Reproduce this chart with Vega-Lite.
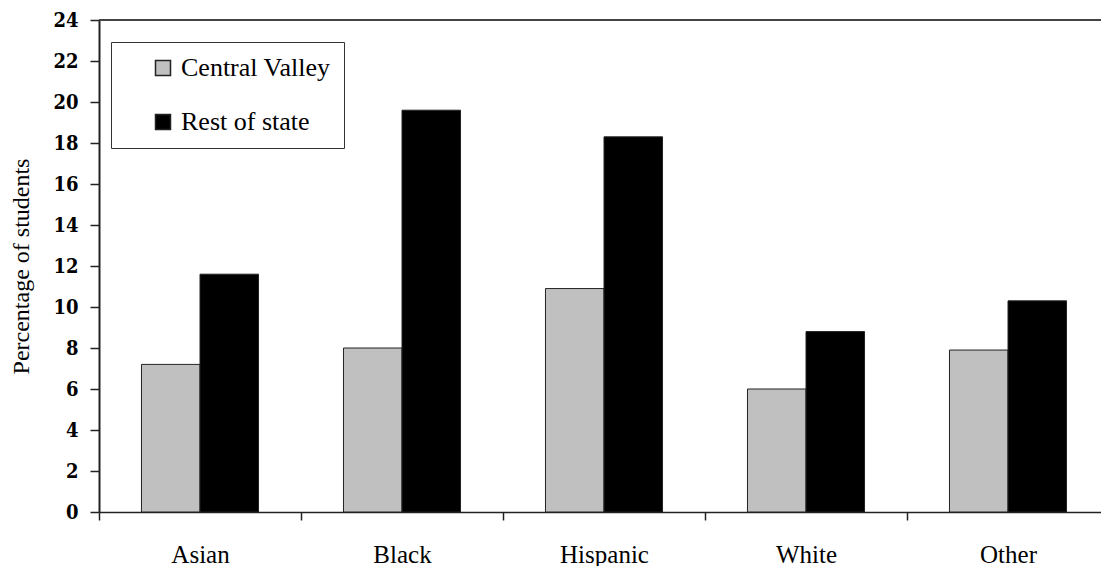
{
  "$schema": "https://vega.github.io/schema/vega-lite/v6.json",
  "width": 1002,
  "height": 492,
  "autosize": {"type": "none"},
  "padding": {"left": 99, "top": 20, "right": 0, "bottom": 54},
  "background": "white",
  "config": {
    "view": {"stroke": null},
    "font": "Liberation Serif"
  },
  "data": {
    "values": [
      {"group": "Asian", "region": "Central Valley", "pct": 7.2},
      {"group": "Asian", "region": "Rest of state", "pct": 11.6},
      {"group": "Black", "region": "Central Valley", "pct": 8.0},
      {"group": "Black", "region": "Rest of state", "pct": 19.6},
      {"group": "Hispanic", "region": "Central Valley", "pct": 10.9},
      {"group": "Hispanic", "region": "Rest of state", "pct": 18.3},
      {"group": "White", "region": "Central Valley", "pct": 6.0},
      {"group": "White", "region": "Rest of state", "pct": 8.8},
      {"group": "Other", "region": "Central Valley", "pct": 7.9},
      {"group": "Other", "region": "Rest of state", "pct": 10.3}
    ]
  },
  "layer": [
    {
      "mark": {"type": "bar", "stroke": "#222222", "strokeWidth": 1},
      "encoding": {
        "x": {
          "field": "group",
          "type": "nominal",
          "sort": ["Asian", "Black", "Hispanic", "White", "Other"],
          "scale": {"range": [0, 1010], "paddingInner": 0, "paddingOuter": 0},
          "axis": {
            "title": null,
            "labelAngle": 0,
            "labelFont": "Liberation Serif",
            "labelFontSize": 25,
            "labelColor": "#000000",
            "labelPadding": 22,
            "tickBand": "extent",
            "tickSize": 8,
            "tickColor": "#222222",
            "tickWidth": 1.5,
            "domainColor": "#222222",
            "domainWidth": 1.5
          }
        },
        "xOffset": {
          "field": "region",
          "type": "nominal",
          "scale": {"paddingInner": 0, "paddingOuter": 0.726}
        },
        "y": {
          "field": "pct",
          "type": "quantitative",
          "scale": {"domain": [0, 24], "nice": false},
          "axis": {
            "title": "Percentage of students",
            "titleFont": "Liberation Serif",
            "titleFontSize": 24,
            "titleFontWeight": "normal",
            "titleColor": "#000000",
            "titlePadding": 19,
            "values": [0, 2, 4, 6, 8, 10, 12, 14, 16, 18, 20, 22, 24],
            "labelFont": "DejaVu Serif Condensed",
            "labelFontSize": 20,
            "labelFontWeight": "bold",
            "labelColor": "#000000",
            "labelPadding": 12,
            "tickSize": 9,
            "tickColor": "#222222",
            "tickWidth": 1.5,
            "domainColor": "#222222",
            "domainWidth": 2,
            "grid": false
          }
        },
        "color": {
          "field": "region",
          "type": "nominal",
          "scale": {"domain": ["Central Valley", "Rest of state"], "range": ["#c0c0c0", "#000000"]},
          "legend": {
            "title": null,
            "orient": "none",
            "legendX": 12,
            "legendY": 22,
            "direction": "vertical",
            "strokeColor": "#333333",
            "fillColor": "#ffffff",
            "padding": 13,
            "symbolType": "square",
            "symbolSize": 225,
            "symbolStrokeColor": "#222222",
            "symbolStrokeWidth": 1.5,
            "symbolOffset": 26,
            "labelFont": "Liberation Serif",
            "labelFontSize": 26,
            "labelColor": "#000000",
            "labelOffset": 5,
            "labelLimit": 400,
            "rowPadding": 28,
            "labelExpr": "datum.label + '          '"
          }
        }
      }
    },
    {
      "mark": {"type": "rule", "color": "#444444", "strokeWidth": 1.5},
      "encoding": {"y": {"datum": 24}}
    }
  ]
}
